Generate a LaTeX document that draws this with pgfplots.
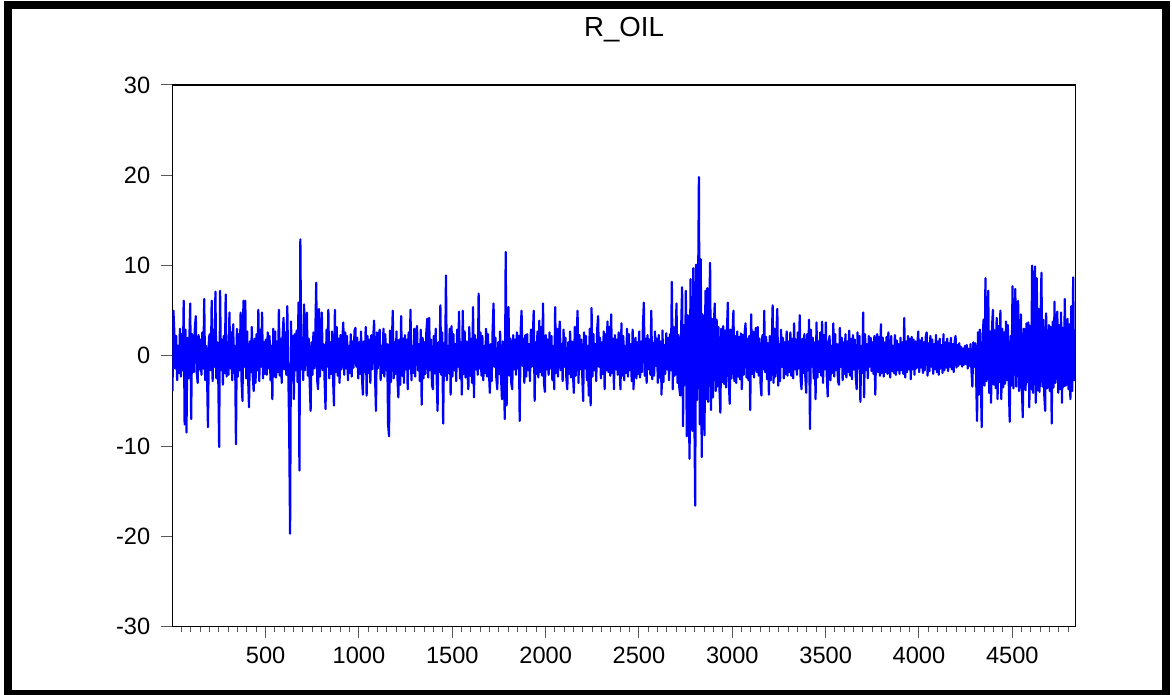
\documentclass[border=0pt]{standalone}
\usepackage{pgfplots}
\pgfplotsset{compat=1.18}
\usepackage{fontspec}
\setmainfont{Liberation Sans}
\begin{document}
\begin{tikzpicture}
\useasboundingbox (0,0) rectangle (586pt,347.5pt);
\draw[line width=4pt] (4pt,0.5pt) rectangle (583pt,344.75pt);
\node[font=\fontsize{13.8}{15}\selectfont] at (312pt,332.5pt) {R\_OIL};
\begin{axis}[
  at={(86.15pt,34.15pt)}, anchor=south west,
  width=451.65pt, height=270.85pt, scale only axis,
  xmin=0, xmax=4839, ymin=-30, ymax=30,
  xtick={500,1000,1500,2000,2500,3000,3500,4000,4500},
  xticklabels={500,1000,1500,2000,2500,3000,3500,4000,4500},
  minor xtick={50,100,...,4800},
  ytick={-30,-20,-10,0,10,20,30},
  yticklabels={-30,-20,-10,0,10,20,30},
  tick pos=left, tick align=outside,
  major tick length=5.5pt, minor tick length=2.5pt,
  every tick/.style={black!65, line width=0.5pt},
  axis line style={black, line width=0.6pt},
  tick label style={font=\fontsize{11.8}{13}\selectfont},
  /pgf/number format/assume math mode=true,
  xticklabel style={yshift=-1pt},
  yticklabel style={xshift=-2pt},
]
\addplot[color={rgb,255:red,0;green,0;blue,255}, line width=1.1pt, line join=round, mark=none]
 table[x expr=\coordindex*5+1, y index=0, header=false, row sep=\\] {
-3.9\\ 5.0\\ 2.6\\ -1.4\\ 2.2\\ -2.7\\ 1.1\\ -1.9\\ 3.0\\ -2.3\\
2.4\\ -1.6\\ 6.1\\ -7.6\\ 2.9\\ -8.5\\ 2.0\\ -2.5\\ 1.5\\ 5.8\\
-7.0\\ 2.4\\ 1.6\\ -1.8\\ 3.2\\ 4.4\\ -1.9\\ -3.0\\ 2.3\\ -1.5\\
1.8\\ -2.1\\ 2.6\\ -1.4\\ 6.3\\ -2.7\\ 1.1\\ -1.9\\ -7.9\\ 2.0\\
2.4\\ -1.6\\ 6.1\\ -2.8\\ 2.9\\ -1.2\\ 7.1\\ -2.5\\ 1.5\\ -2.0\\
-10.1\\ 7.2\\ -1.6\\ 1.8\\ -3.2\\ 2.2\\ -1.9\\ 6.8\\ -2.3\\ 1.5\\
-2.1\\ 4.8\\ -1.4\\ 2.6\\ -2.7\\ 3.5\\ -1.9\\ 1.1\\ -9.8\\ 3.0\\
-2.3\\ 2.4\\ -1.6\\ 4.8\\ -2.8\\ -5.0\\ 6.1\\ -1.2\\ 6.1\\ -2.5\\
2.7\\ -2.4\\ -5.7\\ 1.6\\ -1.8\\ 3.2\\ -2.2\\ -3.9\\ 1.9\\ -3.0\\
2.4\\ -1.6\\ 5.1\\ -2.8\\ 2.9\\ -1.2\\ 4.8\\ -2.5\\ 1.5\\ -2.0\\
1.8\\ -2.1\\ 2.6\\ -1.4\\ 2.2\\ -2.7\\ 1.1\\ -4.8\\ 3.0\\ -2.3\\
2.7\\ -2.4\\ 1.6\\ -1.8\\ 5.1\\ -2.2\\ 1.9\\ -3.0\\ 2.3\\ 4.2\\
-1.5\\ 2.6\\ -2.1\\ 5.5\\ -1.4\\ -7.8\\ -19.7\\ 3.8\\ -2.7\\ 2.2\\
-4.8\\ 2.4\\ -1.6\\ 2.8\\ -2.9\\ 5.9\\ -12.7\\ 12.9\\ -1.5\\ 2.0\\
-2.7\\ 5.7\\ -1.6\\ 1.8\\ 4.8\\ -2.2\\ 1.9\\ -3.0\\ -6.1\\ 1.5\\
-2.1\\ 2.6\\ -1.4\\ 2.2\\ 8.1\\ -2.7\\ -3.7\\ 5.2\\ -2.3\\ 1.8\\
4.8\\ -1.6\\ 1.3\\ -2.8\\ -5.9\\ 2.9\\ -1.2\\ 5.1\\ -2.5\\ 1.5\\
-2.0\\ 2.7\\ -2.4\\ -5.5\\ 5.1\\ -1.8\\ 3.2\\ -2.2\\ 1.9\\ -3.0\\
2.3\\ -1.5\\ 1.8\\ 3.7\\ -2.1\\ 2.6\\ -1.4\\ 2.2\\ -2.7\\ 1.1\\
-1.9\\ 2.4\\ -2.3\\ 1.6\\ -1.3\\ 2.8\\ 3.1\\ -1.2\\ 2.0\\ -2.5\\
1.5\\ -2.0\\ 2.7\\ -2.4\\ -4.3\\ 1.6\\ -1.8\\ 3.2\\ -4.4\\ 2.2\\
-1.9\\ 1.8\\ -3.0\\ 2.3\\ -1.5\\ 1.8\\ 3.9\\ -2.1\\ -6.1\\ 2.6\\
-1.4\\ 2.2\\ 2.9\\ -2.7\\ 1.1\\ -1.9\\ 3.0\\ -2.3\\ 2.4\\ -1.6\\
1.3\\ -7.6\\ -8.9\\ 2.8\\ -2.9\\ 1.2\\ 5.0\\ -2.5\\ 1.5\\ -2.0\\
2.7\\ -2.4\\ -4.6\\ 1.8\\ -3.2\\ 4.4\\ -2.2\\ 1.9\\ -3.0\\ 2.3\\
-1.5\\ 1.8\\ -3.7\\ 2.6\\ -1.4\\ 5.1\\ -2.7\\ 1.1\\ -1.9\\ 3.0\\
-2.3\\ 2.4\\ 3.3\\ -1.6\\ 1.3\\ -2.8\\ 2.9\\ -5.4\\ 2.0\\ -2.5\\
1.5\\ -2.0\\ 2.7\\ 4.1\\ -2.4\\ 4.2\\ -1.6\\ 1.8\\ -3.2\\ -3.7\\
2.2\\ -1.9\\ 3.0\\ -2.3\\ -6.1\\ 1.5\\ -1.8\\ 5.6\\ -2.1\\ 2.6\\
-7.5\\ 1.4\\ -2.2\\ 8.9\\ -2.7\\ 1.1\\ -1.9\\ 3.0\\ -4.3\\ 3.3\\
-2.3\\ 2.4\\ -1.6\\ 1.3\\ -2.8\\ 2.9\\ -1.2\\ 4.9\\ -2.5\\ 1.5\\
-4.3\\ 5.0\\ -2.0\\ 2.7\\ -2.4\\ 1.6\\ -1.8\\ -3.7\\ 3.2\\ -2.2\\
1.9\\ -3.0\\ 5.4\\ -4.6\\ 2.3\\ -1.5\\ 1.8\\ -2.1\\ 6.9\\ -1.4\\
2.6\\ -2.2\\ 2.2\\ -2.7\\ 1.1\\ -1.9\\ 3.0\\ -2.3\\ 2.4\\ -1.6\\
-4.1\\ 1.3\\ -2.8\\ 2.9\\ 5.8\\ -1.2\\ 2.0\\ -2.5\\ -3.7\\ 1.5\\
-2.0\\ 2.7\\ -2.4\\ -4.8\\ 1.6\\ -1.8\\ -7.0\\ 11.5\\ -5.5\\ 3.2\\
5.4\\ -2.2\\ 1.9\\ -3.0\\ -3.7\\ 2.3\\ -1.5\\ 1.8\\ -2.1\\ 2.6\\
-1.4\\ 2.2\\ -7.2\\ 2.7\\ 5.0\\ -1.1\\ 1.9\\ -3.0\\ 2.3\\ -2.3\\
2.4\\ -1.6\\ 1.3\\ -2.8\\ 2.9\\ -1.2\\ 2.0\\ 5.0\\ -5.0\\ 1.5\\
-2.0\\ 2.7\\ -2.4\\ 3.9\\ -1.8\\ 3.2\\ -2.2\\ 5.8\\ -3.0\\ -4.0\\
2.3\\ -1.5\\ 1.8\\ -2.1\\ 2.6\\ -1.4\\ 2.2\\ -2.7\\ 1.1\\ -3.7\\
5.4\\ -1.9\\ 3.0\\ -2.3\\ 2.4\\ 3.8\\ -1.6\\ 1.3\\ -2.8\\ 2.9\\
-1.2\\ 2.0\\ -2.5\\ -3.7\\ 1.5\\ -2.0\\ 2.7\\ -2.4\\ 1.6\\ -1.8\\
-4.1\\ 3.2\\ -2.2\\ 1.9\\ 5.0\\ -3.0\\ 2.3\\ -1.5\\ 1.8\\ -2.1\\
-5.0\\ 2.6\\ -1.4\\ 2.2\\ -2.7\\ 1.1\\ -4.4\\ 3.0\\ -5.5\\ 5.3\\
-2.3\\ 2.4\\ -1.6\\ 1.3\\ -2.8\\ 2.9\\ 4.4\\ -1.2\\ 2.0\\ -2.5\\
1.5\\ -2.0\\ 2.7\\ -3.7\\ 2.4\\ -1.6\\ 3.8\\ -1.8\\ 3.2\\ -2.2\\
4.6\\ -1.9\\ 1.9\\ -3.7\\ 2.3\\ -1.5\\ 1.8\\ -2.1\\ 2.6\\ -1.4\\
-3.7\\ 3.6\\ -2.2\\ 2.2\\ -2.7\\ 1.1\\ -1.9\\ 3.0\\ -2.3\\ 2.4\\
-1.6\\ 1.3\\ -2.8\\ 2.9\\ -3.7\\ 1.2\\ 2.0\\ -2.5\\ 1.5\\ -2.0\\
2.7\\ -2.4\\ 1.6\\ -1.8\\ 3.2\\ 5.9\\ -2.2\\ 1.9\\ -3.0\\ 2.3\\
-1.5\\ 1.8\\ -2.1\\ 5.0\\ -2.6\\ 1.4\\ -2.2\\ 2.7\\ -1.1\\ 1.9\\
-3.0\\ 2.3\\ -2.4\\ 1.6\\ -4.3\\ 2.8\\ -2.9\\ 1.2\\ -2.0\\ 2.5\\
-1.5\\ 2.0\\ -2.7\\ 2.4\\ -1.6\\ 8.2\\ -3.7\\ 3.2\\ -2.2\\ 1.9\\
5.8\\ -3.0\\ 2.3\\ -3.5\\ -4.4\\ 3.1\\ 7.6\\ -7.8\\ 3.4\\ -3.2\\
7.2\\ -8.9\\ 4.5\\ -4.1\\ -11.4\\ 8.5\\ -3.6\\ -8.3\\ 9.7\\ -4.4\\
-16.6\\ 10.1\\ -4.9\\ 5.2\\ 19.8\\ -7.6\\ 10.7\\ -11.2\\ 4.6\\ -5.4\\
-8.8\\ 7.2\\ -4.8\\ 7.5\\ -5.1\\ 4.4\\ 10.3\\ -6.0\\ 4.1\\ -4.6\\
3.5\\ 5.8\\ -3.9\\ 4.0\\ -3.4\\ 3.2\\ -3.6\\ -6.3\\ 3.0\\ -2.9\\
3.3\\ -3.1\\ 2.8\\ -3.5\\ 2.6\\ 5.9\\ -2.7\\ -5.3\\ 2.9\\ -2.5\\
2.4\\ 5.0\\ -2.8\\ 2.2\\ -3.0\\ 2.7\\ -2.3\\ 2.1\\ -2.6\\ 2.5\\
-3.7\\ 2.3\\ -2.1\\ 2.6\\ 3.6\\ -2.4\\ 1.9\\ -2.7\\ 2.2\\ -6.0\\
4.6\\ -2.0\\ 2.7\\ -2.4\\ 1.6\\ 3.1\\ -1.8\\ 3.2\\ -2.2\\ 1.9\\
-3.0\\ -4.4\\ 2.3\\ -1.5\\ 5.0\\ -1.8\\ 2.1\\ -2.6\\ 1.4\\ -4.3\\
2.2\\ -2.7\\ 1.1\\ 5.6\\ -3.0\\ 3.0\\ -2.3\\ 2.4\\ 5.2\\ -3.3\\
1.3\\ -2.8\\ 2.9\\ -1.2\\ 2.0\\ -2.5\\ 1.5\\ -2.0\\ 2.7\\ -2.2\\
1.6\\ -1.8\\ 2.6\\ -2.2\\ 1.9\\ -2.5\\ 3.6\\ -1.5\\ 1.8\\ -2.1\\
2.6\\ -1.4\\ 4.5\\ -2.7\\ -3.7\\ 1.9\\ -1.9\\ 2.4\\ -2.3\\ -4.1\\
2.4\\ -1.6\\ 4.0\\ -8.1\\ 2.9\\ -1.2\\ 2.0\\ -2.5\\ 1.5\\ -4.8\\
3.7\\ -2.4\\ 1.6\\ -1.8\\ 2.6\\ -2.2\\ 3.8\\ -3.0\\ 2.3\\ -1.5\\
3.7\\ -2.1\\ -4.5\\ 1.4\\ 2.2\\ -2.7\\ 1.1\\ -1.9\\ 3.6\\ -2.3\\
2.4\\ -1.6\\ 1.3\\ -2.8\\ -3.2\\ 3.1\\ -1.2\\ 2.0\\ -2.7\\ 1.5\\
-2.0\\ 2.4\\ -2.4\\ 1.6\\ -1.8\\ 2.8\\ -2.2\\ 1.9\\ -2.6\\ 2.3\\
-1.5\\ 1.8\\ -2.1\\ -3.7\\ 2.6\\ -1.4\\ 2.2\\ -5.1\\ 1.1\\ -1.9\\
4.8\\ -4.6\\ 2.4\\ -1.6\\ 1.3\\ -2.5\\ 2.2\\ -1.2\\ 2.0\\ -1.7\\
1.5\\ -2.0\\ 2.2\\ -4.3\\ 1.6\\ 2.4\\ -1.8\\ 2.1\\ -2.2\\ 3.5\\
-1.9\\ 2.0\\ -2.3\\ 1.5\\ -1.8\\ 2.1\\ -2.0\\ 2.6\\ -1.4\\ -2.4\\
2.2\\ -1.7\\ 1.1\\ -1.9\\ 2.3\\ -2.1\\ 1.7\\ -1.6\\ 1.3\\ -2.0\\
2.0\\ -1.6\\ 1.5\\ -2.0\\ 4.2\\ -2.4\\ 1.6\\ -1.8\\ 2.2\\ -1.5\\
1.9\\ -2.6\\ 2.1\\ -1.5\\ 1.8\\ -2.1\\ 1.6\\ -1.4\\ 1.2\\ 2.7\\
-1.8\\ 1.7\\ -1.3\\ 2.0\\ -1.9\\ 1.5\\ -1.6\\ 2.1\\ 2.6\\ -2.2\\
1.4\\ -1.7\\ 2.2\\ -1.2\\ 1.8\\ -2.0\\ 1.3\\ -1.5\\ 2.3\\ -1.8\\
1.6\\ -2.1\\ 1.9\\ -1.4\\ 1.2\\ -1.9\\ 2.4\\ -1.6\\ 1.5\\ -1.3\\
1.9\\ -1.7\\ 1.4\\ -1.2\\ 2.0\\ -1.5\\ 1.3\\ -1.8\\ 1.6\\ 2.2\\
-1.3\\ 1.2\\ -1.1\\ 1.4\\ -0.9\\ 1.0\\ -1.2\\ 0.8\\ -1.0\\ 1.1\\
-0.9\\ 1.2\\ -1.4\\ 0.8\\ -1.1\\ 1.3\\ -1.6\\ -3.4\\ 1.5\\ -1.2\\
1.4\\ -2.2\\ -7.2\\ 2.6\\ -4.3\\ 2.9\\ -2.4\\ -7.9\\ 2.1\\ 4.0\\
-3.3\\ 8.6\\ -2.8\\ 3.5\\ 7.2\\ -4.1\\ 2.7\\ -5.2\\ 3.1\\ 5.1\\
-3.2\\ 2.8\\ -3.6\\ 4.2\\ -4.8\\ 3.3\\ -2.9\\ 5.0\\ -4.8\\ 3.0\\
-3.5\\ 2.6\\ -3.1\\ 3.8\\ -2.7\\ 3.4\\ -3.0\\ -7.3\\ 2.2\\ -3.3\\
7.7\\ -3.6\\ 2.9\\ 7.4\\ -3.4\\ 3.2\\ 6.1\\ -3.9\\ -3.1\\ 4.6\\
-3.5\\ -6.8\\ 3.0\\ 2.9\\ -3.8\\ 3.6\\ -2.9\\ 3.7\\ -5.7\\ 3.3\\
-3.7\\ 10.0\\ -4.1\\ 3.5\\ 9.9\\ -5.2\\ 8.6\\ -3.8\\ 5.2\\ -4.0\\
3.6\\ 9.2\\ -3.4\\ 4.0\\ -4.3\\ -6.1\\ 4.7\\ -3.6\\ -3.2\\ 3.4\\
-3.9\\ 3.2\\ -7.5\\ 3.8\\ -3.5\\ 6.0\\ -3.0\\ 3.6\\ 4.9\\ -4.1\\
3.4\\ -3.7\\ 4.8\\ -5.2\\ 3.1\\ -3.4\\ 6.3\\ -3.3\\ -3.0\\ 4.1\\
-3.7\\ 3.5\\ -4.8\\ 5.5\\ -3.9\\ 8.7\\ -2.8\\
};
\end{axis}
\end{tikzpicture}
\end{document}
